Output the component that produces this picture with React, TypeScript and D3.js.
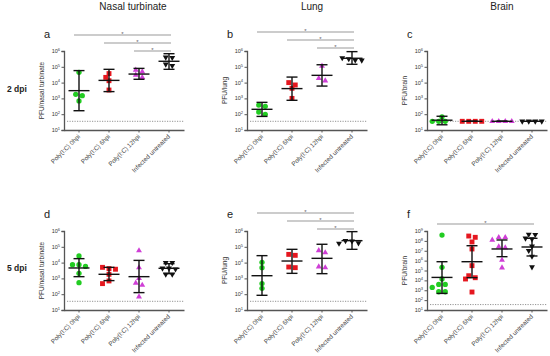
import * as d3 from 'd3';
import React, { useEffect, useRef } from 'react';

const groups = ['Poly(I:C) 0hpi', 'Poly(I:C) 6hpi', 'Poly(I:C) 12hpi', 'Infected untreated'];
const groupColors = ['#22cc22', '#e5171f', '#cf3fd6', '#111111'];
const organs = ['Nasal turbinate', 'Lung', 'Brain'];
const yTitles = ['PFU/nasal turbinate', 'PFU/lung', 'PFU/brain'];
const rowLabels = ['2 dpi', '5 dpi'];
const panelLetters = ['a', 'b', 'c', 'd', 'e', 'f'];
const detectionLimit = 1.55; // log10 PFU

// log10 PFU per animal, then geometric mean and 95% CI
const nasal2 = [[4.65, 3.26, 3.17, 2.84], [4.57, 4.33, 4.12, 3.53], [4.69, 4.8, 4.33, 4.48], [5.6, 5.58, 5.07, 5.16]];
const nasal2Mean = [3.49, 4.14, 4.54, 5.35];
const nasal2Low = [2.22, 3.43, 4.21, 4.84];
const nasal2High = [4.76, 4.84, 4.9, 5.83];

const lung2 = [[2.5, 2.58, 1.99, 2.14], [3.85, 4.0, 3.64, 3.0], [5.05, 4.12, 4.27], [5.42, 5.41, 5.5, 5.56]];
const lung2Mean = [2.31, 3.62, 4.46, 5.54];
const lung2Low = [1.86, 2.88, 3.78, 5.16];
const lung2High = [2.75, 4.35, 5.13, 5.96];

const brain2 = [[1.55, 1.55, 1.55, 1.83], [1.55, 1.55, 1.55, 1.55], [1.55, 1.55, 1.55, 1.55], [1.55, 1.55, 1.55, 1.55]];
const brain2Mean = [1.62, 1.55, 1.55, 1.55];
const brain2Low = [1.33, 1.55, 1.55, 1.55];
const brain2High = [1.87, 1.55, 1.55, 1.55];

const nasal5 = [[4.42, 3.87, 3.87, 3.76, 3.32, 2.73], [3.7, 3.62, 3.58, 3.26, 2.84, 2.67], [4.76, 3.68, 3.0, 2.71, 2.58, 1.84], [4.0, 4.0, 3.64, 3.64, 3.59, 3.26, 3.26]];
const nasal5Mean = [3.66, 3.26, 3.11, 3.64];
const nasal5Low = [3.11, 2.86, 2.1, 3.3];
const nasal5High = [4.25, 3.7, 4.14, 3.93];

const lung5 = [[4.02, 3.68, 2.67, 2.37], [4.46, 4.52, 3.68, 3.72], [4.63, 4.77, 3.68, 3.74], [5.38, 5.36, 5.24, 5.22]];
const lung5Mean = [3.17, 4.1, 4.27, 5.39];
const lung5Low = [1.93, 3.32, 3.3, 4.84];
const lung5High = [4.44, 4.84, 5.16, 5.96];

const brain5 = [
  [8.59, 5.32, 4.14, 3.59, 3.59, 3.29, 2.85, 2.85],
  [8.49, 8.36, 7.89, 7.18, 5.49, 4.47, 4.27, 4.14, 2.82],
  [8.36, 8.36, 8.09, 7.41, 7.31, 6.06, 5.28],
  [8.63, 8.66, 8.26, 8.19, 7.45, 7.01, 6.43, 5.35],
];
const brain5Mean = [4.3, 5.89, 7.18, 7.38];
const brain5Low = [2.68, 4.27, 6.4, 6.47];
const brain5High = [5.89, 7.51, 8.09, 8.26];

// significant pairs (group index -> group index)
const sigNasal2 = [[0, 3], [1, 3], [2, 3]];
const sigLung2 = [[0, 3], [1, 3], [2, 3]];
const sigLung5 = [[0, 3], [1, 3], [2, 3]];
const sigBrain5 = [[0, 3]];

const panels = [
  { points: nasal2, mean: nasal2Mean, low: nasal2Low, high: nasal2High, sig: sigNasal2, maxExp: 6, col: 0, row: 0, sigTop: 35 },
  { points: lung2, mean: lung2Mean, low: lung2Low, high: lung2High, sig: sigLung2, maxExp: 6, col: 1, row: 0, sigTop: 32 },
  { points: brain2, mean: brain2Mean, low: brain2Low, high: brain2High, sig: [], maxExp: 6, col: 2, row: 0, sigTop: 0 },
  { points: nasal5, mean: nasal5Mean, low: nasal5Low, high: nasal5High, sig: [], maxExp: 6, col: 0, row: 1, sigTop: 0 },
  { points: lung5, mean: lung5Mean, low: lung5Low, high: lung5High, sig: sigLung5, maxExp: 6, col: 1, row: 1, sigTop: 213 },
  { points: brain5, mean: brain5Mean, low: brain5Low, high: brain5High, sig: sigBrain5, maxExp: 9, col: 2, row: 1, sigTop: 224 },
];

const FONT = '"Liberation Sans", Arial, sans-serif';

// GraphPad-like scatter: rows of near-equal values spread symmetrically, nudged away from collisions
function swarm(values: number[], py: (v: number) => number) {
  const pts = values.map((v) => ({ v, py: py(v), dx: 0 }));
  const sorted = [...pts].sort((a, b) => a.py - b.py);
  const placed: { py: number; dx: number }[] = [];
  let k = 0;
  while (k < sorted.length) {
    const row = [sorted[k]];
    let j = k + 1;
    while (j < sorted.length && sorted[j].py - sorted[k].py < 2.5) row.push(sorted[j++]);
    const n = row.length;
    const cands = [0];
    for (let s = 1; s < 8; s++) cands.push(-s * 3.25, s * 3.25);
    for (const c of cands) {
      const offs = row.map((_, m) => c + (m - (n - 1) / 2) * 6.5);
      const ok = row.every((p, m) => placed.every((q) => Math.hypot(offs[m] - q.dx, p.py - q.py) >= 4.5));
      if (ok) {
        row.forEach((p, m) => { p.dx = offs[m]; placed.push(p); });
        break;
      }
    }
    k = j;
  }
  return pts;
}

const App: React.FC = () => {
  const svgRef = useRef<SVGSVGElement | null>(null);

  useEffect(() => {
    if (!svgRef.current) return;
    const svg = d3.select(svgRef.current);
    svg.selectAll('*').remove();

    const colX = [64, 247, 427];
    const rowTop = [51, 231];
    const rowBottom = [130, 310];

    // column titles
    const titleX = [133, 312, 502];
    organs.forEach((t, i) => {
      svg.append('text').attr('x', titleX[i]).attr('y', 10).attr('text-anchor', 'middle')
        .attr('font-family', FONT).attr('font-size', 10).attr('fill', '#222').text(t);
    });
    // row labels
    rowLabels.forEach((t, i) => {
      svg.append('text').attr('x', 7).attr('y', i === 0 ? 92 : 271)
        .attr('font-family', FONT).attr('font-size', 8.5).attr('font-weight', 'bold').attr('fill', '#222').text(t);
    });

    const shapes = [d3.symbolCircle, d3.symbolSquare, d3.symbolTriangle, d3.symbolTriangle];
    const sizes = [22, 24, 15, 15];

    panels.forEach((p, pi) => {
      const x0 = colX[p.col];
      const top = rowTop[p.row];
      const bottom = rowBottom[p.row];
      const g = svg.append('g').attr('font-family', FONT);

      const x = d3.scaleBand().domain(groups).range([x0, x0 + 120]);
      const y = d3.scaleLog().domain([10, Math.pow(10, p.maxExp)]).range([bottom, top]);
      const yl = (v: number) => y(Math.pow(10, v));
      const cx = (i: number) => x(groups[i])! + x.bandwidth() / 2;

      // letter
      g.append('text').attr('x', x0 - 20).attr('y', p.row === 0 ? 38 : 218)
        .attr('font-size', 11).attr('fill', '#222').text(panelLetters[pi]);

      // y axis
      const exps = d3.range(1, p.maxExp + 1);
      const yAxis = g.append('g').attr('transform', `translate(${x0},0)`)
        .call(d3.axisLeft(y).tickValues(exps.map((e) => Math.pow(10, e))).tickSize(2.5).tickFormat(() => ''));
      yAxis.select('.domain').attr('stroke', '#555').attr('stroke-width', 1.3);
      yAxis.selectAll('.tick line').attr('stroke', '#555').attr('stroke-width', 1);
      exps.forEach((e) => {
        const t = g.append('text').attr('x', x0 - 4).attr('y', y(Math.pow(10, e)) + 2)
          .attr('text-anchor', 'end').attr('font-size', 5.5).attr('fill', '#333');
        t.append('tspan').text('10');
        t.append('tspan').attr('dy', -2.2).attr('font-size', 4).text(String(e));
      });

      // y title
      g.append('text').attr('transform', `translate(${x0 - 20},${(top + bottom) / 2}) rotate(-90)`)
        .attr('text-anchor', 'middle').attr('font-size', 6.5).attr('fill', '#333').text(yTitles[p.col]);

      // x axis
      const xAxis = g.append('g').attr('transform', `translate(0,${bottom})`)
        .call(d3.axisBottom(x).tickSize(2.5).tickFormat(() => '').tickSizeOuter(0));
      xAxis.select('.domain').attr('stroke', '#555').attr('stroke-width', 1.3);
      xAxis.selectAll('.tick line').attr('stroke', '#555').attr('stroke-width', 1);
      groups.forEach((gr, i) => {
        g.append('text').attr('transform', `translate(${cx(i) + 1.5},${bottom + 7}) rotate(-45)`)
          .attr('text-anchor', 'end').attr('font-size', 6.3).attr('fill', '#444').text(gr);
      });

      // detection limit
      g.append('line').attr('x1', x0 + 3).attr('x2', x0 + 120)
        .attr('y1', yl(detectionLimit)).attr('y2', yl(detectionLimit))
        .attr('stroke', '#888').attr('stroke-width', 0.9).attr('stroke-dasharray', '1.2,1.3');

      // significance bars
      p.sig.forEach(([a, b], si) => {
        const ly = p.sigTop + si * 8;
        const xa = cx(a) - 5;
        const xb = cx(b) + 2;
        g.append('line').attr('x1', xa).attr('x2', xb).attr('y1', ly).attr('y2', ly)
          .attr('stroke', '#999').attr('stroke-width', 1);
        g.append('text').attr('x', (xa + xb) / 2).attr('y', ly + 0.5).attr('text-anchor', 'middle')
          .attr('font-size', 6).attr('fill', '#666').text('*');
      });

      // points
      p.points.forEach((vals, gi) => {
        const pts = swarm(vals, yl);
        const sym = d3.symbol().type(shapes[gi]).size(sizes[gi]);
        g.selectAll(null).data(pts).enter().append('path')
          .attr('d', sym)
          .attr('transform', (d) => `translate(${cx(gi) + d.dx},${d.py})${gi === 3 ? ' rotate(180)' : ''}`)
          .attr('fill', groupColors[gi]);
      });

      // mean and 95% CI
      groups.forEach((_, gi) => {
        const c = cx(gi);
        const eb = g.append('g').attr('stroke', '#111').attr('stroke-width', 1.4);
        eb.append('line').attr('x1', c).attr('x2', c).attr('y1', yl(p.low[gi])).attr('y2', yl(p.high[gi]));
        eb.append('line').attr('x1', c - 5.5).attr('x2', c + 5.5).attr('y1', yl(p.low[gi])).attr('y2', yl(p.low[gi]));
        eb.append('line').attr('x1', c - 5.5).attr('x2', c + 5.5).attr('y1', yl(p.high[gi])).attr('y2', yl(p.high[gi]));
        eb.append('line').attr('x1', c - 10.5).attr('x2', c + 10.5).attr('y1', yl(p.mean[gi])).attr('y2', yl(p.mean[gi]));
      });
    });
  }, []);

  return (
    <svg ref={svgRef} width={550} height={356} style={{ position: 'absolute', left: 0, top: 0, background: '#fff' }} />
  );
};

export default App;
